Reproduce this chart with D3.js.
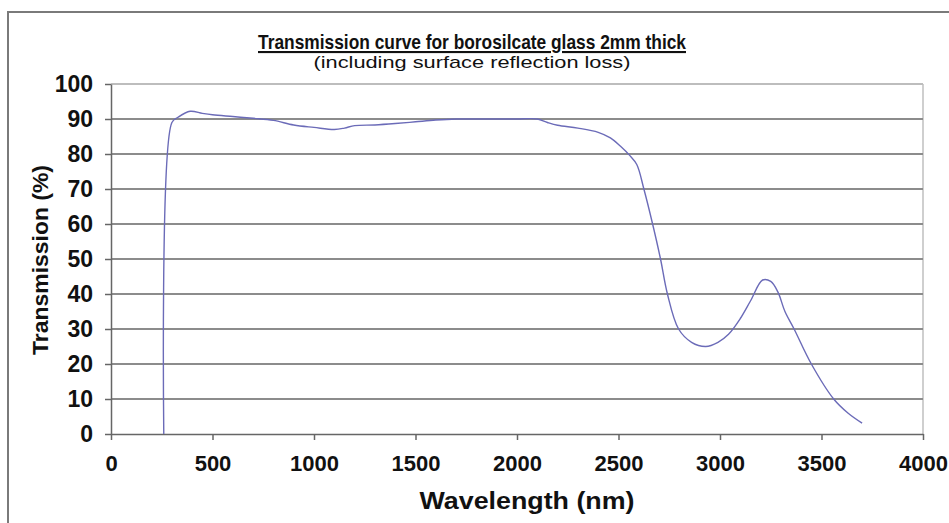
<!DOCTYPE html>
<html>
<head>
<meta charset="utf-8">
<script src="https://cdn.jsdelivr.net/npm/d3@7/dist/d3.min.js"></script>
<style>
  html, body { margin: 0; padding: 0; background: #fff; }
  svg { display: block; }
  text { font-family: "Liberation Sans", Arial, sans-serif; }
</style>
</head>
<body>
<svg id="chart" width="949" height="523"></svg>
<script>
const titleText = "Transmission curve for borosilcate glass 2mm thick";
const subtitleText = "(including surface reflection loss)";
const xTitle = "Wavelength (nm)";
const yTitle = "Transmission (%)";

const wavelength = [260, 300, 330, 390, 450, 500, 600, 700, 800, 900, 1000, 1100, 1150, 1200, 1300, 1400, 1500, 1600, 1700, 1800, 1900, 2000, 2100, 2150, 2200, 2300, 2400, 2460, 2510, 2555, 2590, 2625, 2668, 2707, 2741, 2796, 2860, 2930, 2990, 3042, 3100, 3150, 3210, 3250, 3285, 3320, 3365, 3450, 3560, 3630, 3700];
const transmission = [0, 89, 90.5, 92.2, 91.6, 91.2, 90.7, 90.2, 89.6, 88.3, 87.6, 87.0, 87.4, 88.1, 88.3, 88.7, 89.2, 89.7, 90, 90, 90, 90, 90, 89, 88.2, 87.4, 86.2, 84.6, 82.2, 79.6, 77, 70, 60, 50, 40, 30, 26.2, 25, 26.2, 28.5, 33, 38, 44, 43.6, 40.6, 35, 30, 20, 10, 6, 3.1];

const xTicks = [0, 500, 1000, 1500, 2000, 2500, 3000, 3500, 4000];
const yTicks = [0, 10, 20, 30, 40, 50, 60, 70, 80, 90, 100];

const svg = d3.select("#chart");
const m = { left: 111, right: 923, top: 84, bottom: 434 };

// outer frame
svg.append("rect")
  .attr("x", 8).attr("y", 12)
  .attr("width", 950).attr("height", 520)
  .attr("fill", "none").attr("stroke", "#7a7a7a").attr("stroke-width", 2);

const x = d3.scaleLinear().domain([0, 4000]).range([m.left, m.right]);
const y = d3.scaleLinear().domain([0, 100]).range([m.bottom, m.top]);

// right plot border
svg.append("line")
  .attr("x1", m.right).attr("x2", m.right)
  .attr("y1", m.top).attr("y2", m.bottom)
  .attr("stroke", "#cfcfcf").attr("stroke-width", 2);

// gridlines
svg.append("g").selectAll("line")
  .data(yTicks.filter(d => d > 0))
  .join("line")
  .attr("x1", m.left).attr("x2", m.right)
  .attr("y1", d => y(d)).attr("y2", d => y(d))
  .attr("stroke", d => d === 100 ? "#bdbdbd" : "#8c8c8c")
  .attr("stroke-width", 2);

// y axis
const yAxis = svg.append("g")
  .attr("transform", `translate(${m.left},0)`)
  .call(d3.axisLeft(y).tickValues(yTicks).tickSize(6).tickSizeOuter(0).tickPadding(12));
yAxis.select(".domain").attr("stroke", "#666").attr("stroke-width", 1.5);
yAxis.selectAll(".tick line").attr("stroke", "#666").attr("stroke-width", 1.5);
yAxis.selectAll(".tick text")
  .attr("font-size", 23).attr("font-weight", "bold").attr("fill", "#111")
  .attr("font-family", "'Liberation Sans', Arial, sans-serif");

// x axis
const xAxis = svg.append("g")
  .attr("transform", `translate(0,${m.bottom})`)
  .call(d3.axisBottom(x).tickValues(xTicks).tickFormat(d3.format("d")).tickSize(6).tickSizeOuter(0).tickPadding(15));
xAxis.select(".domain").attr("stroke", "#666").attr("stroke-width", 1.5);
xAxis.selectAll(".tick line").attr("stroke", "#666").attr("stroke-width", 1.5);
xAxis.selectAll(".tick text")
  .attr("font-size", 22).attr("font-weight", "bold").attr("fill", "#111")
  .attr("font-family", "'Liberation Sans', Arial, sans-serif");

// curve
const data = wavelength.map((w, i) => [w, transmission[i]]);
svg.append("path")
  .datum(data)
  .attr("fill", "none")
  .attr("stroke", "#6b6bb8")
  .attr("stroke-width", 1.4)
  .attr("d", d3.line().x(d => x(d[0])).y(d => y(d[1])).curve(d3.curveCatmullRom.alpha(0.5)));

// titles
svg.append("text")
  .attr("x", 472).attr("y", 49)
  .attr("text-anchor", "middle")
  .attr("font-size", 21).attr("font-weight", "bold")
  .attr("text-decoration", "underline")
  .attr("textLength", 428).attr("lengthAdjust", "spacingAndGlyphs")
  .attr("fill", "#111")
  .text(titleText);

svg.append("text")
  .attr("x", 472).attr("y", 68)
  .attr("text-anchor", "middle")
  .attr("font-size", 17)
  .attr("textLength", 317).attr("lengthAdjust", "spacingAndGlyphs")
  .attr("fill", "#111")
  .text(subtitleText);

svg.append("text")
  .attr("x", 527).attr("y", 509)
  .attr("text-anchor", "middle")
  .attr("font-size", 24).attr("font-weight", "bold")
  .attr("textLength", 215).attr("lengthAdjust", "spacingAndGlyphs")
  .attr("fill", "#111")
  .text(xTitle);

svg.append("text")
  .attr("transform", "translate(48,260) rotate(-90)")
  .attr("text-anchor", "middle")
  .attr("font-size", 22).attr("font-weight", "bold")
  .attr("textLength", 190).attr("lengthAdjust", "spacingAndGlyphs")
  .attr("fill", "#111")
  .text(yTitle);
</script>
</body>
</html>
